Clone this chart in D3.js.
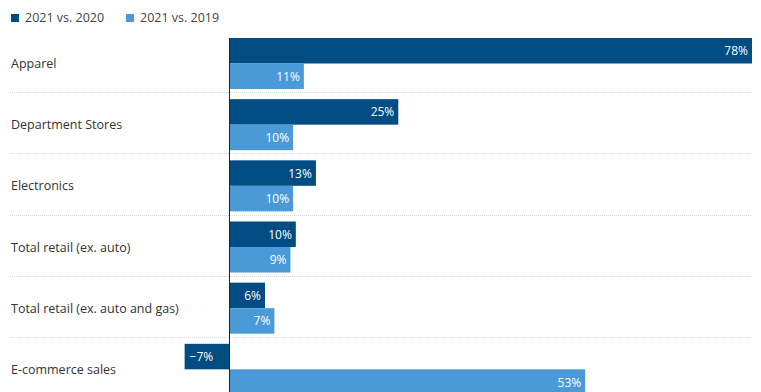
<!DOCTYPE html>
<html>
<head>
<meta charset="utf-8">
<script src="https://cdn.jsdelivr.net/npm/d3@7"></script>
<style>
  body { margin: 0; background: #fff; }
  svg { display: block; font-family: "Open Sans", sans-serif; }
</style>
</head>
<body>
<svg id="chart" width="761" height="392"></svg>
<script>
var categories = ['Apparel', 'Department Stores', 'Electronics', 'Total retail (ex. auto)', 'Total retail (ex. auto and gas)', 'E-commerce sales'];
var series = ['2021 vs. 2020', '2021 vs. 2019'];
// bar lengths, labels as printed
var vs2020 = [78, 25.2, 12.9, 9.9, 5.3, -6.7];
var vs2019 = [11.1, 9.5, 9.5, 9.1, 6.7, 53.1];
var labels2020 = ['78%', '25%', '13%', '10%', '6%', '\u22127%'];
var labels2019 = ['11%', '10%', '10%', '9%', '7%', '53%'];
var colors = ['#014c82', '#4a9ad8'];

var svg = d3.select('#chart');

// scales
var x = d3.scaleLinear().domain([0, 78]).range([229.5, 752]);
var y = d3.scaleBand().domain(categories).range([33, 400]);
var sub = d3.scaleBand().domain(series).range([5, 56]);

// legend
var legend = svg.append('g');
series.forEach(function(s, i) {
  var lx = i == 0 ? 11 : 126;
  legend.append('rect')
    .attr('x', lx).attr('y', 14).attr('width', 8).attr('height', 8)
    .attr('fill', colors[i]);
  legend.append('text')
    .attr('x', lx + 14).attr('y', 22)
    .attr('font-size', 12.5).attr('fill', '#444')
    .text(s);
});

// separators
svg.selectAll('line.sep')
  .data(categories.slice(1))
  .enter()
  .append('line')
  .attr('class', 'sep')
  .attr('x1', 10).attr('x2', 752)
  .attr('y1', function(d) { return Math.round(y(d)) - 1.5; })
  .attr('y2', function(d) { return Math.round(y(d)) - 1.5; })
  .attr('stroke', '#d6d6d6')
  .attr('stroke-dasharray', '1,1');

// category labels
svg.selectAll('text.cat')
  .data(categories)
  .enter()
  .append('text')
  .attr('class', 'cat')
  .attr('x', 11)
  .attr('y', function(d) { return y(d) + sub.bandwidth() + 5 + 4.5; })
  .attr('font-size', 12.5).attr('fill', '#333')
  .text(function(d) { return d; });

var rows = [];
categories.forEach(function(c, i) {
  rows.push({ cat: c, s: series[0], v: vs2020[i], t: labels2020[i], col: colors[0] });
  rows.push({ cat: c, s: series[1], v: vs2019[i], t: labels2019[i], col: colors[1] });
});

var bars = svg.selectAll('g.bar')
  .data(rows)
  .enter()
  .append('g')
  .attr('class', 'bar');

bars.append('rect')
  .attr('x', function(d) { return x(Math.min(0, d.v)); })
  .attr('y', function(d) { return y(d.cat) + sub(d.s); })
  .attr('width', function(d) { return Math.abs(x(d.v) - x(0)); })
  .attr('height', sub.bandwidth())
  .attr('fill', function(d) { return d.col; });

bars.append('text')
  .attr('x', function(d) { return d.v < 0 ? x(d.v) + 5 : x(d.v) - 4; })
  .attr('y', function(d) { return y(d.cat) + sub(d.s) + sub.bandwidth() / 2 + 4.5; })
  .attr('text-anchor', function(d) { return d.v < 0 ? 'start' : 'end'; })
  .attr('font-size', 12).attr('fill', '#fff')
  .text(function(d) { return d.t; });

// zero line
svg.append('line')
  .attr('x1', x(0)).attr('x2', x(0))
  .attr('y1', y(categories[0]) + 5).attr('y2', 392)
  .attr('stroke', '#222').attr('stroke-width', 1);
</script>
</body>
</html>
